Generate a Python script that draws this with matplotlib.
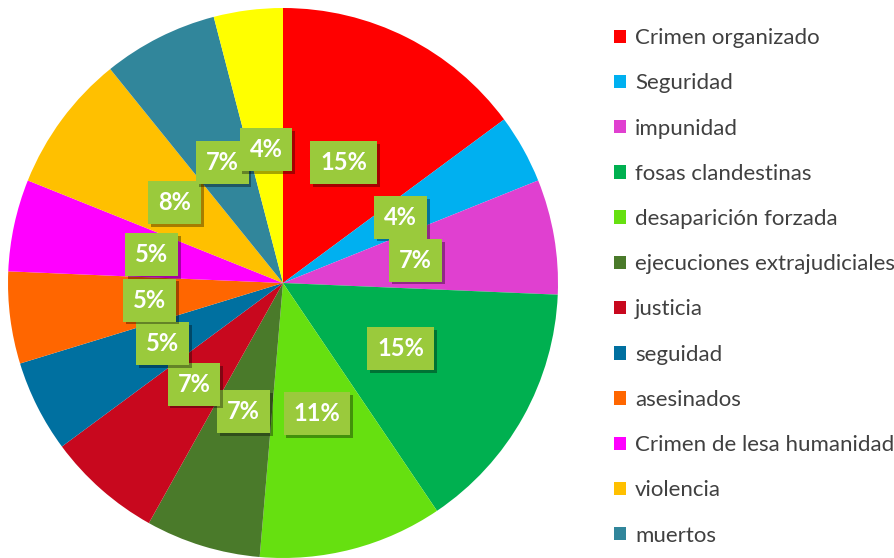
import matplotlib.pyplot as plt
import matplotlib.patheffects as pe

# counts per category (pie shows them as percentages)
labels = ['Crimen organizado', 'Seguridad', 'impunidad', 'fosas clandestinas',
          'desaparición forzada', 'ejecuciones extrajudiciales', 'justicia',
          'seguidad', 'asesinados', 'Crimen de lesa humanidad', 'violencia',
          'muertos', 'otros']
counts = [11, 3, 5, 11, 8, 5, 5, 4, 4, 4, 6, 5, 3]
colors = ['#FF0000', '#00B0F0', '#E040D0', '#00B050', '#66E010', '#4A7A2A',
          '#C8081E', '#0070A0', '#FF6600', '#FF00FF', '#FFC000', '#31869B',
          '#FFFF00']

plt.rcParams['font.family'] = ['Lato', 'DejaVu Sans']

fig = plt.figure(figsize=(8.95, 5.58), dpi=100)
ax = fig.add_axes([8 / 895, 0, 550 / 895, 550 / 558])

wedges, texts, autotexts = ax.pie(counts, colors=colors, startangle=90,
                                  counterclock=False, autopct='%1.0f%%',
                                  pctdistance=0.49, radius=1,
                                  wedgeprops=dict(linewidth=0))
ax.set_xlim(-1, 1)
ax.set_ylim(-1, 1)
ax.set_aspect('equal')

for t in autotexts:
    t.set_color('white')
    t.set_fontweight('bold')
    t.set_fontsize(17)
    t.set_bbox(dict(facecolor='#9ACA3C', edgecolor='none', boxstyle='square,pad=0.42'))
    t.get_bbox_patch().set_path_effects([
        pe.SimplePatchShadow(offset=(2, -2), shadow_rgbFace='black', alpha=0.35),
        pe.Normal()])

leg = fig.legend(wedges[:12], labels[:12], loc='upper left',
                 bbox_to_anchor=(603 / 895, 1 - 17 / 558), frameon=False,
                 fontsize=16, labelspacing=1.135, handlelength=0.55,
                 handleheight=0.55, handletextpad=0.4, borderpad=0)
for t in leg.get_texts():
    t.set_color('#404040')

fig.savefig('out.png', dpi=100)
